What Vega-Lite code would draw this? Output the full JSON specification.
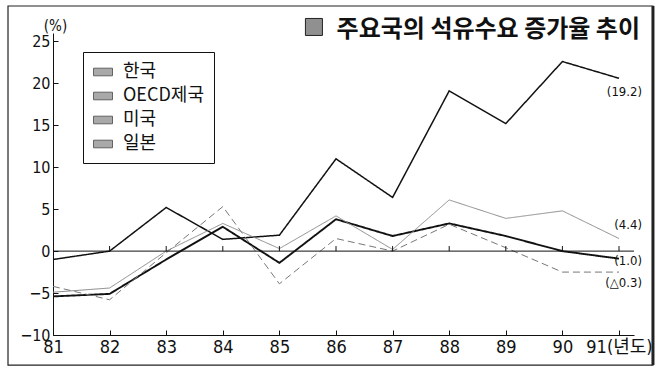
{
  "$schema": "https://vega.github.io/schema/vega-lite/v6.json",
  "width": 581,
  "height": 302,
  "autosize": {"type": "none"},
  "padding": {"left": 53, "top": 33, "right": 22, "bottom": 32},
  "background": "white",
  "title": {
    "text": "주요국의 석유수요 증가율 추이",
    "anchor": "end",
    "frame": "group",
    "font": "Noto Sans CJK KR",
    "fontSize": 24,
    "fontWeight": "bold",
    "color": "#111",
    "baseline": "bottom",
    "offset": 0,
    "dx": 6,
    "dy": 62
  },
  "datasets": {
    "oil": [
      {"series": "한국", "year": 81, "value": -1.0},
      {"series": "한국", "year": 82, "value": 0.0},
      {"series": "한국", "year": 83, "value": 5.2},
      {"series": "한국", "year": 84, "value": 1.4},
      {"series": "한국", "year": 85, "value": 1.9},
      {"series": "한국", "year": 86, "value": 11.0},
      {"series": "한국", "year": 87, "value": 6.4},
      {"series": "한국", "year": 88, "value": 19.1},
      {"series": "한국", "year": 89, "value": 15.2},
      {"series": "한국", "year": 90, "value": 22.6},
      {"series": "한국", "year": 91, "value": 20.6},
      {"series": "OECD제국", "year": 81, "value": -5.4},
      {"series": "OECD제국", "year": 82, "value": -5.1},
      {"series": "OECD제국", "year": 83, "value": -1.0},
      {"series": "OECD제국", "year": 84, "value": 2.9},
      {"series": "OECD제국", "year": 85, "value": -1.4},
      {"series": "OECD제국", "year": 86, "value": 3.8},
      {"series": "OECD제국", "year": 87, "value": 1.8},
      {"series": "OECD제국", "year": 88, "value": 3.3},
      {"series": "OECD제국", "year": 89, "value": 1.8},
      {"series": "OECD제국", "year": 90, "value": 0.0},
      {"series": "OECD제국", "year": 91, "value": -0.9},
      {"series": "미국", "year": 81, "value": -4.2},
      {"series": "미국", "year": 82, "value": -5.8},
      {"series": "미국", "year": 83, "value": -0.2},
      {"series": "미국", "year": 84, "value": 5.3},
      {"series": "미국", "year": 85, "value": -3.9},
      {"series": "미국", "year": 86, "value": 1.5},
      {"series": "미국", "year": 87, "value": 0.0},
      {"series": "미국", "year": 88, "value": 3.2},
      {"series": "미국", "year": 89, "value": 0.4},
      {"series": "미국", "year": 90, "value": -2.5},
      {"series": "미국", "year": 91, "value": -2.5},
      {"series": "일본", "year": 81, "value": -4.9},
      {"series": "일본", "year": 82, "value": -4.4},
      {"series": "일본", "year": 83, "value": 0.0},
      {"series": "일본", "year": 84, "value": 3.3},
      {"series": "일본", "year": 85, "value": 0.3},
      {"series": "일본", "year": 86, "value": 4.2},
      {"series": "일본", "year": 87, "value": 0.2},
      {"series": "일본", "year": 88, "value": 6.1},
      {"series": "일본", "year": 89, "value": 3.9},
      {"series": "일본", "year": 90, "value": 4.8},
      {"series": "일본", "year": 91, "value": 1.5}
    ],
    "notes": [
      {"label": "(19.2)", "year": 91, "value": 18.95},
      {"label": "(4.4)", "year": 91, "value": 3.1},
      {"label": "(1.0)", "year": 91, "value": -1.2},
      {"label": "(△0.3)", "year": 91, "value": -3.8}
    ]
  },
  "layer": [
    {
      "data": {"name": "oil"},
      "mark": {"type": "line", "strokeCap": "butt", "strokeJoin": "miter"},
      "encoding": {
        "x": {
          "field": "year",
          "type": "quantitative",
          "scale": {"domain": [81, 91.265], "nice": false, "zero": false},
          "axis": {
            "title": null,
            "values": [81, 82, 83, 84, 85, 86, 87, 88, 89, 90, 91],
            "format": "d",
            "labelExpr": "datum.value == 91 ? '91(년도)' : datum.label",
            "labelFontSize": 18,
            "tickSize": -5,
            "labelPadding": 8,
            "labelFlush": false,
            "labelOverlap": false
          }
        },
        "y": {
          "field": "value",
          "type": "quantitative",
          "scale": {"domain": [-10, 26], "nice": false, "zero": false},
          "axis": {
            "title": "(%)",
            "titleAngle": 0,
            "titleX": 2,
            "titleY": -8,
            "titleAlign": "center",
            "titleBaseline": "middle",
            "titleFontSize": 15,
            "titleFontWeight": "normal",
            "titleFont": "Liberation Sans Narrow, DejaVu Sans Condensed, Liberation Sans",
            "values": [-10, -5, 0, 5, 10, 15, 20, 25],
            "labelFontSize": 16,
            "tickSize": -5,
            "labelPadding": 8,
            "labelFlush": false,
            "labelOverlap": false
          }
        },
        "color": {
          "field": "series",
          "type": "nominal",
          "sort": "ascending",
          "scale": {"range": ["#111111", "#777777", "#8a8a8a", "#111111"]},
          "legend": null
        },
        "strokeDash": {
          "field": "series",
          "type": "nominal",
          "sort": "ascending",
          "scale": {"range": [[1, 0], [7, 4], [1, 0], [1, 0]]},
          "legend": null
        },
        "strokeWidth": {
          "field": "series",
          "type": "nominal",
          "sort": "ascending",
          "scale": {"type": "ordinal", "range": [1.9, 1, 1, 1.5]},
          "legend": null
        }
      }
    },
    {
      "data": {"name": "oil"},
      "mark": {"type": "point", "filled": true, "size": 0},
      "encoding": {
        "x": {"field": "year", "type": "quantitative"},
        "y": {"field": "value", "type": "quantitative"},
        "fill": {
          "field": "series",
          "type": "nominal",
          "scale": {"domain": ["한국", "OECD제국", "미국", "일본"], "range": ["#858585", "#858585", "#858585", "#858585"]},
          "legend": {
            "orient": "none",
            "legendX": 30,
            "legendY": 19,
            "title": null,
            "direction": "vertical",
            "fillColor": "white",
            "strokeColor": "#111",
            "padding": 10,
            "labelFont": "Noto Sans CJK KR",
            "labelFontSize": 18,
            "labelColor": "#111",
            "symbolType": "M-1,-0.4H1V0.4H-1Z",
            "symbolSize": 361,
            "rowPadding": 5,
            "labelOffset": 10,
            "symbolStrokeWidth": 1,
            "symbolStrokeColor": "#222",
            "encode": {
              "symbols": {
                "update": {
                  "stroke": {"value": "#222222"},
                  "strokeWidth": {"value": 1}
                }
              }
            }
          }
        }
      }
    },
    {
      "data": {"values": [{}]},
      "mark": {"type": "rect", "fill": "transparent", "stroke": "#222", "strokeWidth": 1.2},
      "encoding": {
        "x": {"datum": 80.205, "type": "quantitative"},
        "x2": {"datum": 91.6},
        "y": {"datum": 29.22, "type": "quantitative"},
        "y2": {"datum": -13.58}
      }
    },
    {
      "data": {"values": [{}]},
      "mark": {"type": "rule", "stroke": "#222", "strokeWidth": 3},
      "encoding": {
        "x": {"datum": 91.6, "type": "quantitative"},
        "y": {"datum": 29.22, "type": "quantitative"},
        "y2": {"datum": -13.58}
      }
    },
    {
      "data": {"values": [{}]},
      "mark": {"type": "rule", "stroke": "#111", "strokeWidth": 1},
      "encoding": {
        "x": {"datum": 81, "type": "quantitative"},
        "x2": {"datum": 91.265},
        "y": {"datum": 0, "type": "quantitative"}
      }
    },
    {
      "data": {"name": "oil"},
      "transform": [{"filter": "datum.series == '한국' && datum.year > 81"}],
      "mark": {"type": "rule", "stroke": "#111", "strokeWidth": 1},
      "encoding": {
        "x": {"field": "year", "type": "quantitative"},
        "y": {"datum": 0, "type": "quantitative"},
        "y2": {"datum": 0.6}
      }
    },
    {
      "data": {"name": "notes"},
      "mark": {"type": "text", "align": "right", "baseline": "middle", "dx": 23, "fontSize": 13, "font": "Liberation Sans Narrow, DejaVu Sans Condensed, Liberation Sans", "color": "#111"},
      "encoding": {
        "x": {"field": "year", "type": "quantitative"},
        "y": {"field": "value", "type": "quantitative"},
        "text": {"field": "label"}
      }
    },
    {
      "data": {"values": [{}]},
      "mark": {"type": "point", "shape": "square", "filled": true, "fill": "#909090", "stroke": "#222", "strokeWidth": 1, "size": 289, "opacity": 1},
      "encoding": {
        "x": {"datum": 85.61, "type": "quantitative"},
        "y": {"datum": 26.72, "type": "quantitative"}
      }
    }
  ],
  "config": {
    "view": {"stroke": null},
    "axis": {
      "domainColor": "#111",
      "tickColor": "#111",
      "labelColor": "#111",
      "titleColor": "#111",
      "grid": false,
      "labelFont": "Liberation Sans Narrow, DejaVu Sans Condensed, Noto Sans CJK KR"
    }
  }
}
